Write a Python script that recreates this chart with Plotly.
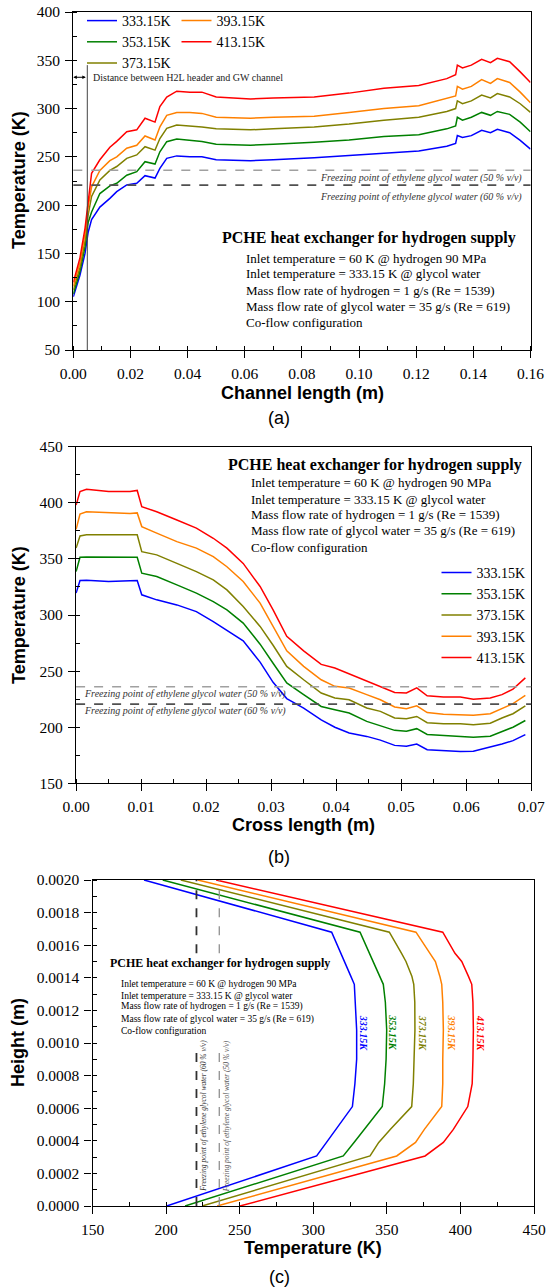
import plotly.graph_objects as go

W, H = 548, 1288
def PX(px): return px / W
def PY(py): return 1 - py / H

SERIES = ["333.15K", "353.15K", "373.15K", "393.15K", "413.15K"]
SERIES_T = [333.15, 353.15, 373.15, 393.15, 413.15]
COLORS = ["#0000FF", "#008000", "#808000", "#FF8000", "#FF0000"]
FP50 = 236.15
FP60 = 220.65

# ---------------- panel (a) ----------------
xa = [0, 0.0023, 0.0041, 0.0052, 0.0064, 0.0093, 0.0128, 0.0152, 0.0187, 0.0222, 0.0251, 0.0286,
      0.0303, 0.0327, 0.0362, 0.0408, 0.045, 0.050, 0.056, 0.062, 0.070, 0.0843, 0.0965, 0.1087,
      0.1209, 0.1307, 0.1338, 0.1344, 0.1362, 0.1393, 0.1429, 0.146, 0.1484, 0.1527, 0.1564, 0.16]
a_333 = [105, 127, 150, 172, 185, 198, 207, 214, 221, 222.6, 230.5, 228, 238, 248.5, 251, 250, 250, 247,
         246.5, 246, 247, 249, 251.5, 254, 256, 261, 264, 272, 270, 272, 277.5, 275, 278.5, 275, 267, 258]
a_353 = [108, 131, 157, 182, 193, 212, 220, 222.6, 231, 234.6, 245, 242.6, 255.3, 265.7, 268.5, 267, 266,
         263, 262.5, 262, 263, 265, 267.5, 271, 273, 279, 282, 291, 288, 291, 296, 293, 297, 294, 286, 276]
a_373 = [112, 135, 163, 190, 209, 226, 236, 240, 248.5, 252, 260.5, 257, 269, 279.5, 283, 282, 281, 279,
         278.5, 278, 279, 281, 284, 288, 291, 297, 300, 308, 305, 308, 314, 311, 315.5, 312, 305, 296]
a_393 = [116, 140, 170, 198, 219, 236, 246, 250, 259, 262, 271.6, 267.5, 281, 293, 296, 296, 295, 291,
         290.5, 290, 291, 292, 296, 300, 303, 310, 313, 323, 320, 323, 330, 326, 331, 327, 317, 306]
a_413 = [120, 145, 176, 205, 233, 247, 260, 266, 276, 278, 290, 286, 302, 312, 318, 317, 317, 312,
         311, 310, 311, 312, 316, 321, 324, 331, 335, 345, 342, 345, 351, 347.5, 352, 348.5, 338, 327]
A_SERIES = [a_333, a_353, a_373, a_393, a_413]

# ---------------- panel (b) ----------------
xb = [0, 0.0006, 0.0016, 0.005, 0.0083, 0.0094, 0.0101, 0.0124, 0.0155, 0.0185, 0.0211, 0.0232, 0.0257,
      0.0283, 0.0303, 0.0324, 0.035, 0.0377, 0.0398, 0.042, 0.0447, 0.0468, 0.049, 0.0508, 0.0524, 0.054,
      0.0565, 0.0591, 0.0611, 0.0637, 0.0655, 0.0672, 0.0691]
b_333 = [319.5, 330.7, 331, 329.8, 330.5, 330.7, 318, 313.5, 309, 303, 294, 286, 277, 258, 240, 225.5, 217,
         206.5, 200, 194.8, 191.8, 188.5, 183.8, 183, 185, 180, 179.2, 178.3, 178.5, 182, 185, 188, 193.4]
b_353 = [338.7, 351.5, 351.8, 351.5, 351.5, 351.5, 337.3, 334.3, 326.9, 319.5, 312, 304.6, 292.8, 274, 257,
         239.4, 229, 218.5, 215.6, 212.7, 205.2, 201.4, 197.2, 196.3, 198.7, 193.5, 192.5, 192, 191, 192, 196.3, 200, 206]
b_373 = [359.6, 370.5, 371.5, 371.4, 371.4, 371.5, 356.5, 353.6, 346, 338.7, 331.3, 322.4, 307.6, 289.8, 273,
         254.2, 242.3, 230.5, 226, 224.5, 217.1, 214.1, 208.2, 207.5, 209.6, 204, 203, 203, 202.2, 203.5, 208.2, 212, 219]
b_393 = [376.4, 390, 392, 391, 390.5, 391, 378.8, 373, 365.4, 359.6, 352, 343, 329.8, 310.6, 289.8, 268,
         254.2, 242.3, 236.4, 235, 229, 224.5, 218, 216.5, 219, 213, 211.5, 211, 210.6, 212, 217, 221, 228.3]
b_413 = [398, 410, 412, 410, 410, 411, 396.6, 392, 384.7, 377.4, 368.4, 359.6, 346, 325.4, 304.6, 281, 268,
         256, 252.7, 247.5, 241, 236.5, 231, 230.5, 235, 228, 227, 227, 225, 226, 229, 234, 244]
B_SERIES = [b_333, b_353, b_373, b_393, b_413]

# ---------------- panel (c) ----------------
hc = [0, 0.000307, 0.00039, 0.00047, 0.00061, 0.00075, 0.0009, 0.00108, 0.00125, 0.00136, 0.00141,
      0.0015, 0.00155, 0.00168, 0.002]
c_333 = [200.4, 302.3, 309, 315.4, 326.6, 328.3, 329.5, 329.5, 328.6, 327.9, 325.5, 321.2, 318.8, 312.5, 185]
c_353 = [212.9, 320.4, 327.7, 334.7, 346.9, 348.5, 349.5, 349.9, 349, 347.6, 345, 340.6, 338.2, 331.8, 197.7]
c_373 = [224.5, 338.6, 344.5, 352.3, 366.9, 368, 368.5, 369.1, 369, 368.3, 367, 363, 360, 351.7, 210]
c_393 = [234.7, 356.7, 369.5, 375.5, 387.3, 388, 388, 388.4, 388, 387.3, 386, 383, 379.3, 369.8, 221.5]
c_413 = [250.2, 376, 388.4, 395.2, 405, 408, 408.5, 408.8, 408.5, 407.7, 405.4, 400.9, 396.3, 388, 234]
C_SERIES = [c_333, c_353, c_373, c_393, c_413]

INFO_TITLE = "PCHE heat exchanger for hydrogen supply"
INFO_LINES = ["Inlet temperature = 60 K @ hydrogen 90 MPa",
              "Inlet temperature = 333.15 K @ glycol water",
              "Mass flow rate of hydrogen = 1 g/s (Re = 1539)",
              "Mass flow rate of glycol water = 35 g/s (Re = 619)",
              "Co-flow configuration"]
FP50_TXT = "Freezing point of ethylene glycol water (50 % v/v)"
FP60_TXT = "Freezing point of ethylene glycol water (60 % v/v)"

SERIF = "Liberation Serif"
SANS = "Liberation Sans"

fig = go.Figure()
for i, (name, col) in enumerate(zip(SERIES, COLORS)):
    fig.add_trace(go.Scatter(x=xa, y=A_SERIES[i], mode="lines", name=name,
                             line=dict(color=col, width=1.5), xaxis="x", yaxis="y",
                             legend="legend" if i < 3 else "legend2"))
for i, (name, col) in enumerate(zip(SERIES, COLORS)):
    fig.add_trace(go.Scatter(x=xb, y=B_SERIES[i], mode="lines", name=name,
                             line=dict(color=col, width=1.5), xaxis="x2", yaxis="y2",
                             legend="legend3"))
for i, (name, col) in enumerate(zip(SERIES, COLORS)):
    fig.add_trace(go.Scatter(x=C_SERIES[i], y=hc, mode="lines", name=name, showlegend=False,
                             line=dict(color=col, width=1.5), xaxis="x3", yaxis="y3"))


def axis(domain, rng, dtick, mdtick, anchor, fmt=None):
    d = dict(domain=domain, range=rng, tick0=rng[0], dtick=dtick, ticks="outside", ticklen=7,
             tickwidth=1.2, tickcolor="black", showline=True, linecolor="black", linewidth=1.3,
             mirror=True, showgrid=False, zeroline=False, anchor=anchor, ticklabelstandoff=2,
             automargin=False,
             tickfont=dict(family=SERIF, size=15.5, color="black"),
             minor=dict(dtick=mdtick, tick0=rng[0], ticks="inside", ticklen=4, tickwidth=1.2,
                        tickcolor="black", showgrid=False))
    if fmt:
        d["tickformat"] = fmt
    return d


def inner(rng, dtick, over, anchor):
    return dict(range=rng, tick0=rng[0], dtick=dtick, overlaying=over, anchor=anchor, ticks="inside",
                ticklen=6, tickwidth=1.2, tickcolor="black", showticklabels=False, showline=False,
                showgrid=False, zeroline=False, automargin=False)


xa_dom = [PX(73.3), PX(530.5)]; ya_dom = [PY(350), PY(12)]
xb_dom = [PX(76.1), PX(531.2)]; yb_dom = [PY(783.3), PY(446.7)]
xc_dom = [PX(92.5), PX(534)]; yc_dom = [PY(1206), PY(880)]

leg = dict(font=dict(family=SERIF, size=14, color="black"), bgcolor="rgba(0,0,0,0)",
           itemwidth=30, tracegroupgap=0, xanchor="left", yanchor="top", borderwidth=0)

fig.update_layout(
    template="none",
    width=W, height=H, margin=dict(l=0, r=0, t=0, b=0, autoexpand=False),
    font=dict(family=SERIF, size=14, color="black"),
    paper_bgcolor="white", plot_bgcolor="white", showlegend=True,
    xaxis=axis(xa_dom, [0, 0.16], 0.02, 0.01, "y", ".2f"),
    yaxis=axis(ya_dom, [50, 400], 50, 25, "x"),
    xaxis2=axis(xb_dom, [0, 0.07], 0.01, 0.005, "y2", ".2f"),
    yaxis2=axis(yb_dom, [150, 450], 50, 25, "x2"),
    xaxis3=axis(xc_dom, [150, 450], 50, 25, "y3"),
    yaxis3=axis(yc_dom, [0, 0.002], 0.0002, 0.0001, "x3", ".4f"),
    xaxis4=inner([0, 0.16], 0.02, "x", "y"),
    yaxis4=inner([50, 400], 50, "y", "x"),
    xaxis5=inner([0, 0.07], 0.01, "x2", "y2"),
    yaxis5=inner([150, 450], 50, "y2", "x2"),
    xaxis6=inner([150, 450], 50, "x3", "y3"),
    yaxis6=inner([0, 0.002], 0.0002, "y3", "x3"),
    legend=dict(leg, x=PX(82), y=PY(5)),
    legend2=dict(leg, x=PX(176.5), y=PY(5)),
    legend3=dict(leg, x=PX(436.5), y=PY(557)),
)

shapes = []
ann = []
# panel a reference lines
shapes.append(dict(type="line", xref="x domain", yref="y", x0=0, x1=1, y0=FP50, y1=FP50,
                   line=dict(color="#A0A0A0", width=1.5, dash="dash")))
shapes.append(dict(type="line", xref="x domain", yref="y", x0=0, x1=1, y0=FP60, y1=FP60,
                   line=dict(color="#505050", width=1.8, dash="dash")))
shapes.append(dict(type="line", xref="x", yref="y", x0=0.0049, x1=0.0049, y0=50, y1=345,
                   line=dict(color="#444444", width=1)))
ann.append(dict(xref="x", yref="y", x=0.0, y=332.4, ax=0.0049, ay=332.4, axref="x", ayref="y",
                text="", showarrow=True, arrowhead=2, arrowside="end+start", arrowsize=0.7,
                arrowwidth=1, arrowcolor="black"))
ann.append(dict(xref="x", yref="y", x=0.0061, y=332.4, xanchor="left", yanchor="middle", showarrow=False,
                text="Distance between H2L header and GW channel",
                font=dict(family=SERIF, size=10, color="#222")))
ann.append(dict(xref="x", yref="y", x=0.1576, y=228.1, xanchor="right", yanchor="middle", showarrow=False,
                text="<i>" + FP50_TXT + "</i>", font=dict(family=SERIF, size=10, color="#333")))
ann.append(dict(xref="x", yref="y", x=0.1576, y=208.7, xanchor="right", yanchor="middle", showarrow=False,
                text="<i>" + FP60_TXT + "</i>", font=dict(family=SERIF, size=10, color="#333")))
ann.append(dict(xref="x", yref="y", x=0.1035, y=165.7, xanchor="center", yanchor="middle", showarrow=False,
                text="<b>" + INFO_TITLE + "</b>", font=dict(family=SERIF, size=16, color="black")))
for t, yv in zip(INFO_LINES, [145, 129.4, 112.1, 94.8, 78.3]):
    ann.append(dict(xref="x", yref="y", x=0.0596, y=yv, xanchor="left", yanchor="middle", showarrow=False,
                    text=t, font=dict(family=SERIF, size=13, color="black")))

# panel b
shapes.append(dict(type="line", xref="x2 domain", yref="y2", x0=0, x1=1, y0=FP50, y1=FP50,
                   line=dict(color="#A0A0A0", width=1.5, dash="dash")))
shapes.append(dict(type="line", xref="x2 domain", yref="y2", x0=0, x1=1, y0=FP60, y1=FP60,
                   line=dict(color="#505050", width=1.8, dash="dash")))
ann.append(dict(xref="x2", yref="y2", x=0.0009, y=229.6, xanchor="left", yanchor="middle", showarrow=False,
                text="<i>" + FP50_TXT + "</i>", font=dict(family=SERIF, size=10, color="#333")))
ann.append(dict(xref="x2", yref="y2", x=0.0009, y=214.7, xanchor="left", yanchor="middle", showarrow=False,
                text="<i>" + FP60_TXT + "</i>", font=dict(family=SERIF, size=10, color="#333")))
ann.append(dict(xref="x2", yref="y2", x=0.04594, y=433.7, xanchor="center", yanchor="middle", showarrow=False,
                text="<b>" + INFO_TITLE + "</b>", font=dict(family=SERIF, size=16, color="black")))
for t, yv in zip(INFO_LINES, [418, 403.2, 389.2, 375, 360.4]):
    ann.append(dict(xref="x2", yref="y2", x=0.02658, y=yv, xanchor="left", yanchor="middle", showarrow=False,
                    text=t, font=dict(family=SERIF, size=13, color="black")))

# panel c
for fp, col, w in [(FP60, "#303030", 1.8), (FP50, "#909090", 1.3)]:
    for y0, y1 in [(0, 0.000988), (0.00155, 0.002)]:
        shapes.append(dict(type="line", xref="x3", yref="y3", x0=fp, x1=fp, y0=y0, y1=y1,
                           line=dict(color=col, width=w, dash="dash")))
ann.append(dict(xref="x3", yref="y3", x=FP60 + 4.3, y=0.000552, textangle=-90, xanchor="center",
                yanchor="middle", showarrow=False, text="<i>" + FP60_TXT + "</i>",
                font=dict(family=SERIF, size=7.5, color="#333")))
ann.append(dict(xref="x3", yref="y3", x=FP50 + 4.7, y=0.000552, textangle=-90, xanchor="center",
                yanchor="middle", showarrow=False, text="<i>" + FP50_TXT + "</i>",
                font=dict(family=SERIF, size=7.5, color="#555")))
ann.append(dict(xref="x3", yref="y3", x=236.4, y=0.001489, xanchor="center", yanchor="middle", showarrow=False,
                text="<b>" + INFO_TITLE + "</b>", font=dict(family=SERIF, size=12, color="black")))
for t, yv in zip(INFO_LINES, [0.001362, 0.00129, 0.001223, 0.001147, 0.001075]):
    ann.append(dict(xref="x3", yref="y3", x=167.8, y=yv, xanchor="left", yanchor="middle", showarrow=False,
                    text=t, font=dict(family=SERIF, size=9.5, color="black")))
for name, tv, col in zip(SERIES, SERIES_T, COLORS):
    ann.append(dict(xref="x3", yref="y3", x=tv + 1.0, y=0.00106, textangle=90, xanchor="center",
                    yanchor="middle", showarrow=False, text="<b><i>" + name + "</i></b>",
                    font=dict(family=SERIF, size=10, color=col)))

# axis titles and panel labels
def ptxt(text, x, y, size=18, bold=True, angle=0):
    return dict(xref="paper", yref="paper", x=PX(x), y=PY(y), xanchor="center", yanchor="middle",
                showarrow=False, textangle=angle, text=("<b>%s</b>" % text) if bold else text,
                font=dict(family=SANS, size=size, color="black"))

ann += [
    ptxt("Temperature (K)", 19, 180, angle=-90),
    ptxt("Channel length (m)", 302, 393),
    ptxt("(a)", 279, 418, bold=False),
    ptxt("Temperature (K)", 19, 615, angle=-90),
    ptxt("Cross length (m)", 303, 825),
    ptxt("(b)", 279, 857, bold=False),
    ptxt("Height (m)", 18, 1043, angle=-90),
    ptxt("Temperature (K)", 313, 1248),
    ptxt("(c)", 279, 1277, bold=False),
]

fig.update_layout(shapes=shapes, annotations=ann)
fig.write_html("out.html")
